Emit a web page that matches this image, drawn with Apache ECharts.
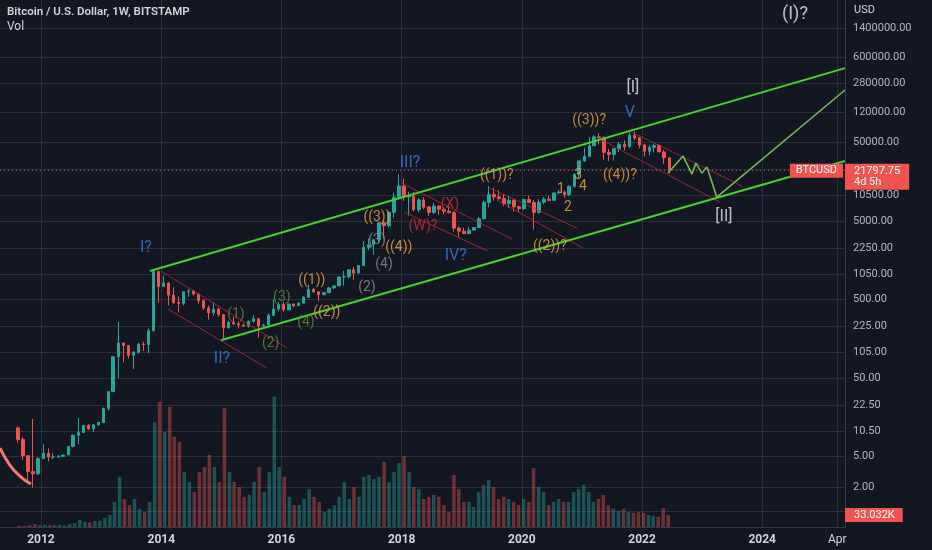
<!DOCTYPE html>
<html><head><meta charset="utf-8">
<script src="https://cdn.jsdelivr.net/npm/echarts@6/dist/echarts.min.js"></script>
<style>html,body{margin:0;padding:0;background:#131722;}#c{width:932px;height:550px;}</style>
</head><body><div id="c"></div>
<script>
// ---------- DATA ----------
const months = [
 '2011-08','2011-09','2011-10','2011-11','2011-12',
 '2012-01','2012-02','2012-03','2012-04','2012-05','2012-06','2012-07','2012-08','2012-09','2012-10','2012-11','2012-12',
 '2013-01','2013-02','2013-03','2013-04','2013-05','2013-06','2013-07','2013-08','2013-09','2013-10','2013-11','2013-12',
 '2014-01','2014-02','2014-03','2014-04','2014-05','2014-06','2014-07','2014-08','2014-09','2014-10','2014-11','2014-12',
 '2015-01','2015-02','2015-03','2015-04','2015-05','2015-06','2015-07','2015-08','2015-09','2015-10','2015-11','2015-12',
 '2016-01','2016-02','2016-03','2016-04','2016-05','2016-06','2016-07','2016-08','2016-09','2016-10','2016-11','2016-12',
 '2017-01','2017-02','2017-03','2017-04','2017-05','2017-06','2017-07','2017-08','2017-09','2017-10','2017-11','2017-12',
 '2018-01','2018-02','2018-03','2018-04','2018-05','2018-06','2018-07','2018-08','2018-09','2018-10','2018-11','2018-12',
 '2019-01','2019-02','2019-03','2019-04','2019-05','2019-06','2019-07','2019-08','2019-09','2019-10','2019-11','2019-12',
 '2020-01','2020-02','2020-03','2020-04','2020-05','2020-06','2020-07','2020-08','2020-09','2020-10','2020-11','2020-12',
 '2021-01','2021-02','2021-03','2021-04','2021-05','2021-06','2021-07','2021-08','2021-09','2021-10','2021-11','2021-12',
 '2022-01','2022-02','2022-03','2022-04','2022-05','2022-06'
];
const opens = [
 11.5,8.2,5.1,3.2,3.0,
 4.7,5.5,4.9,4.9,5.0,5.2,6.7,9.3,10.1,12.4,11.2,12.6,
 13.5,20.4,33.4,93,139,129,97,106,135,133,199,1129,
 732,805,565,455,445,625,640,585,480,388,338,375,
 320,217,254,244,236,230,263,284,230,236,313,377,
 430,368,436,416,448,530,672,624,573,608,700,742,
 963,970,1190,1080,1350,2300,2480,2870,4730,4340,6440,9950,
 13860,10100,10330,6930,9240,7490,6390,7730,7030,6630,6370,4040,
 3690,3440,3810,4100,5320,8560,10800,10080,9600,8290,9150,7540,
 7180,9350,8540,6410,8630,9450,9140,11340,11650,10780,13800,19700,
 29000,33100,45200,58800,57700,37300,35000,41500,47100,43800,61300,57000,
 46200,38500,43200,45500,37700,31800
];
const highs = [
 12.0,8.8,5.2,15.0,4.9,
 7.2,6.3,5.5,5.2,5.2,6.8,9.5,15.4,12.6,12.9,12.8,13.8,
 21.0,33.4,95,259,140,129,110,140,145,215,1160,1163,
 1000,830,710,545,630,680,660,600,500,415,460,390,
 320,265,300,262,247,268,317,285,245,334,500,465,
 462,440,440,465,550,775,700,630,615,720,752,980,
 1150,1200,1290,1350,2760,2980,2920,4750,4980,6470,11400,19670,
 17200,11790,11700,9750,10000,7770,8500,7760,7410,7680,6600,4230,
 4100,4200,4150,5600,9070,13880,13180,12330,10950,10370,9500,7750,
 9580,10500,9190,9470,10080,10390,11450,12470,12090,14100,19860,29300,
 41950,58350,61780,64900,59500,41300,42300,50500,52900,67000,69000,59100,
 47900,45800,48200,47400,39900,31900
];
const lows = [
 7.5,4.5,2.3,2.0,2.9,
 4.6,4.3,4.6,4.8,4.9,5.2,6.5,7.1,9.9,10.8,10.2,12.3,
 13.2,19.1,33.1,50,79,88,65,101,110,103,196,456,
 730,420,440,340,420,540,560,440,365,275,310,300,
 152,212,236,214,225,218,253,162,225,235,305,350,
 350,365,395,412,440,525,605,470,570,605,680,740,
 750,920,890,1075,1350,2100,1840,2680,2970,4110,5500,9950,
 9000,5870,6600,6430,7050,5750,6120,5880,6100,6200,3650,3120,
 3400,3380,3730,4080,5200,7440,9080,9350,7740,7300,6530,6410,
 6860,8450,3850,6160,8110,8900,8960,10990,9860,10380,13200,17600,
 28130,32300,45000,47000,30000,28800,29300,37300,39600,43300,53300,42000,
 32900,34300,37200,37600,26700,20080
];
const closes = [
 8.2,5.1,3.2,3.0,4.7,
 5.5,4.9,4.9,5.0,5.2,6.7,9.3,10.1,12.4,11.2,12.6,13.5,
 20.4,33.4,93,139,129,97,106,135,133,199,1129,732,
 805,565,455,445,625,640,585,480,388,338,375,320,
 217,254,244,236,230,263,284,230,236,313,377,430,
 368,436,416,448,530,672,624,573,608,700,742,963,
 970,1190,1080,1350,2300,2480,2870,4730,4340,6440,9950,13860,
 10100,10330,6930,9240,7490,6390,7730,7030,6630,6370,4040,3690,
 3440,3810,4100,5320,8560,10800,10080,9600,8290,9150,7540,7180,
 9350,8540,6410,8630,9450,9140,11340,11650,10780,13800,19700,29000,
 33100,45200,58800,57700,37300,35000,41500,47100,43800,61300,57000,46200,
 38500,43200,45500,37700,31800,21797.75
];
// volume, thousands of BTC
const volumes = [
 3,3,5,8,5,
 6,5,5,5,4,8,11,19,14,13,16,17,
 25,33,69,138,77,60,77,50,41,69,289,344,
 261,330,248,234,151,124,96,151,165,198,165,124,
 327,151,124,110,83,88,124,165,96,151,358,165,
 138,83,60,60,77,105,83,69,41,50,60,83,
 124,77,110,83,138,143,132,138,179,124,151,176,
 195,151,110,105,77,83,88,83,60,41,143,105,
 69,69,55,96,116,129,110,77,83,77,69,60,
 77,69,162,110,96,60,69,77,69,69,96,105,
 116,96,69,77,88,60,50,44,50,41,39,41,
 39,33,30,28,52,33.032
];
const symbolName = 'BTCUSD';
const lastPrice = 21797.75;
const countdown = '4d 5h';
const lastVolumeLabel = '33.032K';

const priceTicks = [1400000,600000,280000,120000,50000,10500,5000,2250,1050,500,225,105,50,22.5,10.5,5,2];
const priceGridOnly = [22500,1];
const timeTicks = [['2012-01-01','2012'],['2014-01-01','2014'],['2016-01-01','2016'],['2018-01-01','2018'],
  ['2020-01-01','2020'],['2022-01-01','2022'],['2024-01-01','2024'],['2025-04-01','Apr']];
const timeRange = ['2011-04-27','2025-05-18'];

// drawings (date, price)
const channelUpper = [['2013-10-24',1146],['2025-05-18',441000]];
const channelLower = [['2014-12-30',151],['2025-05-18',28900]];
const projection = [['2022-06-08',20300],['2022-09-07',33400],['2022-10-31',19700],['2022-11-24',27200],
  ['2022-12-30',20300],['2023-01-30',24200],['2023-03-31',10000],['2025-05-18',232000]];
const redChannels = [
  [['2013-12-30',1146],['2016-02-04',120]],
  [['2014-02-11',376],['2015-10-04',66.7]],
  [['2018-01-03',15100],['2019-11-01',2930]],
  [['2018-01-15',6470],['2019-06-08',2060]],
  [['2019-06-20',13100],['2020-12-01',4050]],
  [['2019-08-02',9200],['2021-01-07',2250]],
  [['2021-10-31',67600],['2023-08-30',13900]],
  [['2021-04-08',56600],['2023-04-18',8670]]
];
const redArc = [['2011-04-27',6.37],['2011-06-26',3.87],['2011-08-26',2.81],['2011-11-01',2.22]];

// wave labels (date, price, text)
const blueLabels = [['2013-09-30',2250,'I?'],['2015-01-05',87,'II?'],['2018-02-21',27200,'III?'],['2018-11-26',1780,'IV?'],['2021-10-19',118000,'V']];
const whiteLabels = [['2021-11-06',245000,'[I]'],['2023-05-13',5580,'[II]']];
const topLabels = [['2024-07-18',2150000,'(I)?']];
const orangeLabels = [['2016-07-04',881,'((1))'],['2016-10-03',344,'((2))'],['2017-08-04',5580,'((3))'],['2017-12-15',2318,'((4))'],
  ['2019-08-02',19100,'((1))?'],['2020-06-20',2390,'((2))?'],['2020-08-26',12700,'1'],['2020-10-08',7480,'2'],
  ['2020-12-08',19100,'3'],['2021-01-07',13500,'4'],['2021-02-13',96200,'((3))?'],['2021-08-19',19100,'((4))?']];
const oliveLabels = [['2015-03-31',324,'(1)'],['2015-10-28',135,'(2)'],['2016-01-04',535,'(3)'],['2016-05-29',257,'(4)']];
const grayLabels = [['2017-06-04',716,'(2)'],['2017-08-04',2840,'(3)'],['2017-09-16',1410,'(4)']];
const redLabels = [['2018-05-10',4290,'(W)?'],['2018-10-21',8180,'(X)']];

// ---------- CHART ----------
const T = s => new Date(s + 'T00:00:00Z').getTime();
const FONT = 'Roboto, sans-serif';
const UP = '#26a69a', DOWN = '#ef5350';
const GRID = '#2b2f3a';
const TXT = '#b2b5be';

const candleData = months.map((m, i) => [T(m + '-15'), opens[i], closes[i], lows[i], highs[i]]);
const volData = months.map((m, i) => ({
  value: [T(m + '-15'), volumes[i]],
  itemStyle: { color: closes[i] >= opens[i] ? 'rgba(38,166,154,0.42)' : 'rgba(239,83,80,0.42)' }
}));
const pts = arr => arr.map(p => [T(p[0]), p[1]]);

function lineSeries(data, color, width, z, smooth) {
  return { type: 'line', xAxisIndex: 0, yAxisIndex: 0, data: pts(data), symbol: 'none', smooth: !!smooth,
    silent: true, z: z, lineStyle: { color: color, width: width }, clip: true };
}
function labelSeries(data, color, size) {
  return { type: 'scatter', xAxisIndex: 0, yAxisIndex: 0, z: 8, silent: true,
    data: data.map(d => [T(d[0]), d[1], d[2]]), symbol: 'circle', symbolSize: 1,
    itemStyle: { color: 'rgba(0,0,0,0)' },
    label: { show: true, position: 'inside', formatter: p => p.data[2], color: color, fontSize: size,
      fontFamily: FONT, fontWeight: 'normal' } };
}

const hLines = priceTicks.map(v => ({ yAxis: v, label: { show: true, formatter: Number(v).toFixed(2) } }))
  .concat(priceGridOnly.map(v => ({ yAxis: v, label: { show: false } })));
const vLines = timeTicks.map(t => ({ xAxis: T(t[0]), name: t[1],
  label: { fontWeight: t[1] === 'Apr' ? 'normal' : 'bold' } }));

const series = [
  { type: 'line', xAxisIndex: 0, yAxisIndex: 0, data: [[T('2011-05-01'), 1]], symbol: 'none', z: 1, silent: true,
    lineStyle: { opacity: 0 },
    markLine: { z: 1, silent: true, symbol: ['none', 'none'], animation: false,
      lineStyle: { color: GRID, width: 1, type: 'solid' },
      label: { show: true, position: 'end', distance: 8, color: TXT, fontSize: 11, fontFamily: FONT },
      data: hLines } },
  { type: 'line', xAxisIndex: 0, yAxisIndex: 0, data: [[T('2011-05-01'), 1]], symbol: 'none', z: 1, silent: true,
    lineStyle: { opacity: 0 },
    markLine: { z: 1, silent: true, symbol: ['none', 'none'], animation: false,
      lineStyle: { color: GRID, width: 1, type: 'solid' },
      label: { show: true, position: 'start', distance: 7, formatter: '{b}', color: '#d1d4dc', fontSize: 12, fontFamily: FONT },
      data: vLines } },
  { type: 'bar', xAxisIndex: 1, yAxisIndex: 1, data: volData, barWidth: 3.5, z: 2, silent: true,
    markLine: { z: 12, silent: true, symbol: ['none', 'none'], animation: false,
      lineStyle: { color: 'rgba(0,0,0,0)' },
      label: { show: true, position: 'end', distance: 0, formatter: lastVolumeLabel, color: '#fff',
        backgroundColor: '#f05350', padding: [2, 8, 1, 9], fontSize: 11, fontFamily: FONT },
      data: [{ yAxis: volumes[volumes.length - 1] }] } },
  { type: 'candlestick', xAxisIndex: 0, yAxisIndex: 0, data: candleData, encode: { x: 0, y: [1, 2, 3, 4] },
    barWidth: 3, z: 3, silent: true,
    itemStyle: { color: UP, color0: DOWN, borderColor: UP, borderColor0: DOWN, borderWidth: 1 } },
  lineSeries(redArc, '#f07a72', 3, 4, true)
];
redChannels.forEach(c => series.push(lineSeries(c, 'rgba(185,40,62,0.8)', 1, 4)));
series.push(lineSeries(channelUpper, '#45d12e', 2, 5));
series.push(lineSeries(channelLower, '#45d12e', 2, 5));
series.push(lineSeries(projection, '#74b957', 1.6, 5));
series.push(labelSeries(blueLabels, '#3b7dd8', 16));
series.push(labelSeries(whiteLabels, '#e9e9ea', 16));
series.push(labelSeries(topLabels, '#e9e9ea', 18));
series.push(labelSeries(orangeLabels, '#f0a044', 14));
series.push(labelSeries(oliveLabels, '#5f8f35', 14));
series.push(labelSeries(grayLabels, '#8b8e97', 14));
series.push(labelSeries(redLabels, '#cc2f2f', 14));
series.push({ type: 'line', xAxisIndex: 0, yAxisIndex: 0, data: [[T('2011-05-01'), 1]], symbol: 'none', z: 9, silent: true,
  lineStyle: { opacity: 0 },
  markLine: { z: 12, silent: true, symbol: ['none', 'none'], animation: false,
    lineStyle: { color: 'rgba(239,83,80,0.85)', width: 1, type: [1, 3] },
    data: [
      { yAxis: lastPrice, label: { show: true, position: 'end', distance: 0,
          formatter: lastPrice.toFixed(2) + '\n' + countdown, color: '#fff', backgroundColor: '#f05350',
          padding: [2, 9, 2, 9], lineHeight: 11, fontSize: 11, fontFamily: FONT, offset: [0, 6] } },
      { yAxis: lastPrice, lineStyle: { color: 'rgba(0,0,0,0)' },
        label: { show: true, position: 'insideEnd', distance: 2, formatter: symbolName, color: '#fff',
          backgroundColor: '#f05350', padding: [2, 6, 1, 6], fontSize: 11, fontFamily: FONT } }
    ] } });

const chart = echarts.init(document.getElementById('c'), null, { renderer: 'canvas' });
chart.setOption({
  backgroundColor: '#131722',
  animation: false,
  title: [
    { text: 'Bitcoin / U.S. Dollar, 1W, BITSTAMP', subtext: 'Vol', left: 7, top: 6, padding: 0, itemGap: 3,
      textStyle: { color: '#d1d4dc', fontSize: 11.5, fontWeight: 600, fontFamily: FONT },
      subtextStyle: { color: '#d1d4dc', fontSize: 12, fontFamily: FONT } },
    { text: 'USD', left: 854, top: 5, padding: 0,
      textStyle: { color: '#d1d4dc', fontSize: 11, fontWeight: 'normal', fontFamily: FONT } }
  ],
  grid: [
    { left: 0, right: 87, top: 0, bottom: 23 },
    { left: 0, right: 87, top: 377, bottom: 23 }
  ],
  xAxis: [
    { type: 'time', gridIndex: 0, min: T(timeRange[0]), max: T(timeRange[1]),
      axisLine: { show: true, onZero: false, lineStyle: { color: '#363a45' } },
      axisTick: { show: false }, axisLabel: { show: false }, splitLine: { show: false } },
    { type: 'time', gridIndex: 1, min: T(timeRange[0]), max: T(timeRange[1]), show: false }
  ],
  yAxis: [
    { type: 'log', logBase: 10, gridIndex: 0, position: 'right', min: 0.63, max: 3250000,
      axisLine: { show: true, lineStyle: { color: '#363a45' } },
      axisTick: { show: false }, axisLabel: { show: false }, splitLine: { show: false } },
    { type: 'value', gridIndex: 1, min: 0, max: 412.5, show: false, splitLine: { show: false } }
  ],
  series: series
});
</script>
</body></html>
